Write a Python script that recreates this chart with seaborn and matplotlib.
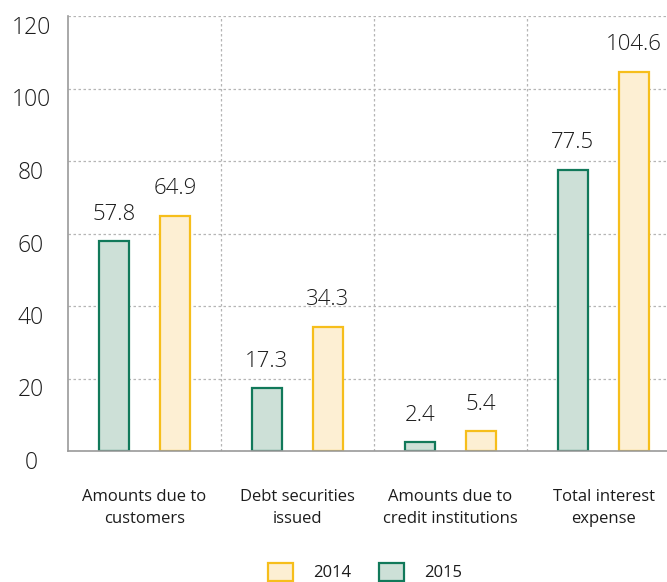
import matplotlib
matplotlib.use("Agg")
import matplotlib.pyplot as plt
from matplotlib.patches import Patch
import seaborn as sns
import pandas as pd

# Interest expense by source, 2015 vs 2014
categories = [
    "Amounts due to\ncustomers",
    "Debt securities\nissued",
    "Amounts due to\ncredit institutions",
    "Total interest\nexpense",
]
values_2015 = [57.8, 17.3, 2.4, 77.5]
values_2014 = [64.9, 34.3, 5.4, 104.6]
years = ["2015", "2014"]
y_ticks = [0, 20, 40, 60, 80, 100, 120]

df = pd.DataFrame({
    "category": categories * 2,
    "value": values_2015 + values_2014,
    "year": ["2015"] * len(categories) + ["2014"] * len(categories),
})

face = {"2015": "#cde0d7", "2014": "#fdefd3"}
edge = {"2015": "#11795a", "2014": "#f6be1b"}
text_color = "#1c1c1c"

sns.set_style("white")
plt.rcParams["font.family"] = ["Open Sans", "DejaVu Sans"]

fig = plt.figure(figsize=(6.67, 5.82), dpi=100)
ax = fig.add_axes([68 / 667, 1 - 451 / 582, 1 - 68 / 667, (451 - 16) / 582])

sns.barplot(
    data=df, x="category", y="value", hue="year", hue_order=years,
    palette=face, width=0.8, gap=0.5, legend=False, ax=ax, zorder=3,
)

for container, yr, vals in zip(ax.containers, years, [values_2015, values_2014]):
    for bar in container:
        bar.set_facecolor(face[yr])
        bar.set_edgecolor(edge[yr])
        bar.set_linewidth(1.6)
    ax.bar_label(container, labels=[f"{v:.1f}" for v in vals], padding=12,
                 fontsize=16, color=text_color, fontweight="light")

ax.set_xlim(-0.5, 3.415)
ax.set_ylim(0, 120)
ax.set_yticks(y_ticks)
ax.set_xlabel("")
ax.set_ylabel("")

# dashed horizontal grid and dotted category separators
ax.yaxis.grid(True, linestyle=(0, (2, 2)), color="#b5b5b5", linewidth=0.9, zorder=0)
ax.xaxis.grid(False)
for xb in [0.5, 1.5, 2.5]:
    ax.axvline(xb, linestyle=(0, (2, 2)), color="#b5b5b5", linewidth=0.9, zorder=0)

for side in ["top", "right"]:
    ax.spines[side].set_visible(False)
for side in ["left", "bottom"]:
    ax.spines[side].set_color("#9a9a9a")
    ax.spines[side].set_linewidth(1.2)
    ax.spines[side].set_zorder(4)

ax.tick_params(axis="y", length=0, pad=26.6, labelsize=16.5, labelcolor=text_color)
ax.tick_params(axis="x", length=0, pad=27.5, labelsize=12, labelcolor=text_color)
for lbl in ax.get_yticklabels():
    lbl.set_horizontalalignment("center")
    lbl.set_verticalalignment("top")
    lbl.set_fontweight("light")
for lbl in ax.get_xticklabels():
    lbl.set_linespacing(1.45)

handles = [
    Patch(facecolor=face[y], edgecolor=edge[y], linewidth=1.6, label=y)
    for y in ["2014", "2015"]
]
fig.legend(
    handles=handles, loc="center", bbox_to_anchor=(365 / 667, 1 - 572 / 582),
    ncol=2, frameon=False, fontsize=12, handlelength=1.5, handleheight=1.3,
    handletextpad=1.2, columnspacing=1.65, labelcolor=text_color,
)

fig.savefig("out.png", dpi=100)
